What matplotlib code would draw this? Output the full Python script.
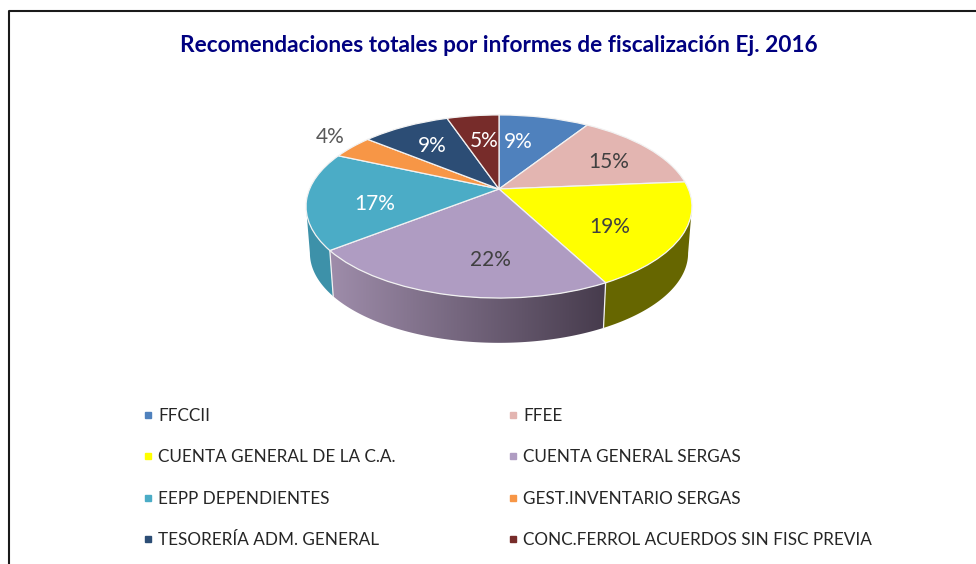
import matplotlib

matplotlib.use("Agg")
import matplotlib.pyplot as plt
import numpy as np
from matplotlib.colors import LinearSegmentedColormap
from matplotlib.lines import Line2D
from matplotlib.patches import Polygon
from matplotlib.transforms import Transform

title = "Recomendaciones totales por informes de fiscalización Ej. 2016"
categories = [
    "FFCCII",
    "FFEE",
    "CUENTA GENERAL DE LA C.A.",
    "CUENTA GENERAL SERGAS",
    "EEPP DEPENDIENTES",
    "GEST.INVENTARIO SERGAS",
    "TESORERÍA ADM. GENERAL",
    "CONC.FERROL ACUERDOS SIN FISC PREVIA",
]
values = [9.1, 14.6, 18.55, 22.2, 17.2, 4.2, 8.9, 5.25]
colors = ["#4f81bd", "#e3b5b1", "#ffff00", "#af9cc2", "#4bacc6", "#f79646", "#2c4d75", "#772c2a"]

plt.rcParams["font.family"] = ["Lato", "DejaVu Sans"]


class Perspective(Transform):
    """Unit circle of the pie to figure pixels, tilted like the 3D chart."""

    input_dims = 2
    output_dims = 2
    is_separable = False
    has_inverse = False

    def __init__(self, scale=1.0, drop=0.0):
        super().__init__()
        self.scale = scale
        self.drop = drop

    def transform_non_affine(self, values):
        pts = np.asarray(values, dtype=float)
        d = 1 + 0.191 * pts[:, 1]
        x = 499 + self.scale * 189.4 * pts[:, 0] / d
        y = 189 + self.drop - self.scale * 88.2 * pts[:, 1] / d
        return np.column_stack([x, y])


def wall_polygon(start, end):
    """Outline of the pie side between two angles, in pixels."""
    t = np.radians(np.linspace(start, end, 80))
    circle = np.column_stack([np.cos(t), np.sin(t)])
    top = Perspective().transform(circle)
    bottom = Perspective(0.98, 47).transform(circle)
    return np.vstack([top, bottom[::-1]])


fig = plt.figure(figsize=(9.76, 5.64), dpi=100)
ax = fig.add_axes([0, 0, 1, 1])

wedges, _ = ax.pie(
    values,
    colors=colors,
    startangle=90,
    counterclock=False,
    wedgeprops={"edgecolor": "#f2f2f2", "linewidth": 0.9, "zorder": 3},
)
tilt = Perspective() + ax.transData
for w in wedges:
    w.set_transform(tilt)

# side of the pie, only where the slices face the viewer
edges = 90 - 3.6 * np.cumsum([0] + values)
ax.add_patch(Polygon(wall_polygon(-11, edges[3]), fc="#666600", ec="none", zorder=1))
ax.add_patch(Polygon(wall_polygon(edges[4], -169), fc="#3d91a9", ec="none", zorder=1))

shade = LinearSegmentedColormap.from_list("side", ["#a08eac", "#453a4b"])
clip = Polygon(wall_polygon(edges[3], edges[4]), transform=ax.transData, fc="none", ec="none")
ax.add_patch(clip)
im = ax.imshow(
    np.linspace(0, 1, 256).reshape(1, -1),
    cmap=shade,
    extent=[325, 610, 350, 240],
    aspect="auto",
    zorder=1,
)
im.set_clip_path(clip)

for a in [edges[3], edges[4]]:
    pts = wall_polygon(a, a)
    ax.plot(pts[[0, -1], 0], pts[[0, -1], 1], color="#f2f2f2", lw=0.9, zorder=2)

label_xy = [(518, 142), (609, 162), (610, 227), (490, 260), (375, 204), (330, 137), (432, 146), (484, 141)]
label_colors = ["white", "#404040", "#404040", "#404040", "white", "#595959", "white", "white"]
for v, xy, c in zip(values, label_xy, label_colors):
    ax.text(xy[0], xy[1], f"{round(v)}%", color=c, fontsize=15, ha="center", va="center", zorder=4)

ax.text(499, 46, title, color="#000080", fontsize=16.3, fontweight="bold", ha="center", va="center")

# frame of the chart, cropped on the right and at the bottom
ax.plot([8.5, 8.5, 976], [564, 11, 11], color="#1a1a1a", lw=1.5, zorder=5)

handles = [
    Line2D([], [], ls="none", marker="s", ms=4.5, color=c, label=n)
    for c, n in zip(colors, categories)
]
order = [0, 2, 4, 6, 1, 3, 5, 7]
ax.legend(
    handles=[handles[i] for i in order],
    ncol=2,
    frameon=False,
    fontsize=12.3,
    labelcolor="#262626",
    loc="upper left",
    bbox_to_anchor=(143 / 976, 1 - 408 / 564),
    borderaxespad=0,
    borderpad=0,
    handlelength=0.6,
    handletextpad=0.3,
    labelspacing=1.48,
    columnspacing=6.55,
)

ax.set_aspect("auto")
ax.set_xlim(0, 976)
ax.set_ylim(564, 0)
ax.axis("off")

fig.savefig("out.png", dpi=100)
